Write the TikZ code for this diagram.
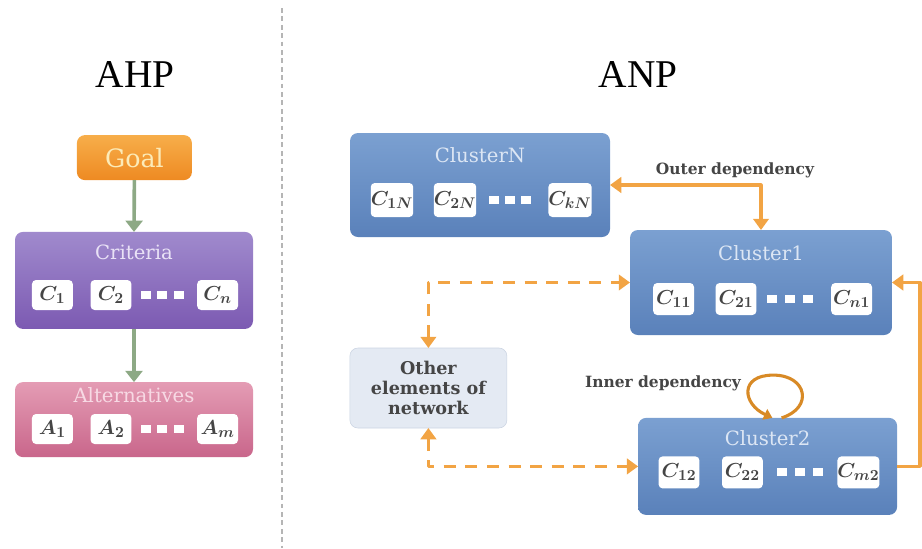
\documentclass[tikz,border=0pt]{standalone}
\usepackage{fontspec}
\setmainfont{DejaVu Serif}
\newfontfamily\headfont{Liberation Serif}
\usetikzlibrary{arrows.meta,calc}
\definecolor{goalTop}{HTML}{F7AE4A}
\definecolor{goalBot}{HTML}{EE8A22}
\definecolor{goalText}{HTML}{FCEBB8}
\definecolor{critTop}{HTML}{A08ACD}
\definecolor{critBot}{HTML}{7C5AB2}
\definecolor{critText}{HTML}{E9E2F6}
\definecolor{altTop}{HTML}{E49CB4}
\definecolor{altBot}{HTML}{C9668B}
\definecolor{altText}{HTML}{F7D9E4}
\definecolor{clTop}{HTML}{7BA0D1}
\definecolor{clBot}{HTML}{5A81BA}
\definecolor{clText}{HTML}{DCE6F4}
\definecolor{depColor}{HTML}{F2A444}
\definecolor{loopColor}{HTML}{D88A26}
\definecolor{hierColor}{HTML}{8DA985}
\definecolor{othFill}{HTML}{E4EAF3}
\definecolor{othLine}{HTML}{CBD4E2}
\definecolor{txtColor}{HTML}{454545}
\definecolor{sepColor}{HTML}{B5B5B5}
\tikzset{
	box/.style={rounded corners=2mm, inner sep=0, outer sep=0},
	cluster/.style={box, top color=clTop, bottom color=clBot},
	elem/.style={fill=white, rounded corners=1mm, minimum width=1.02cm, minimum height=0.75cm,
			inner sep=0, text=txtColor, font=\fontsize{15}{17}\selectfont\boldmath},
	boxtitle/.style={inner sep=0, font=\fontsize{14}{16}\selectfont},
	head/.style={inner sep=0, font=\headfont\fontsize{28}{32}\selectfont},
	deplabel/.style={inner sep=0, text=txtColor, font=\bfseries\fontsize{11}{13}\selectfont},
	hierarrow/.style={draw=hierColor, line width=2.6pt, -{Triangle[width=12pt,length=8pt]}},
	outerdep/.style={draw=depColor, line width=2.2pt,
			{Triangle[width=11pt,length=8pt]}-{Triangle[width=11pt,length=8pt]}},
	returnline/.style={draw=depColor, line width=2.2pt, -{Triangle[width=11pt,length=8pt]}},
	dashdep/.style={draw=depColor, line width=2.2pt, dash pattern=on 3mm off 2.4mm,
			{Triangle[width=11pt,length=8pt]}-{Triangle[width=11pt,length=8pt]}},
	innerdep/.style={draw=loopColor, line width=2.2pt, -{Triangle[width=8pt,length=6pt]}}
}
\newcommand{\sqrow}[2]{\foreach \xx in {#1} \fill[white] (\xx,#2) +(-0.125,-0.1) rectangle +(0.125,0.1);}

\begin{document}
\begin{tikzpicture}[line join=round]
	\useasboundingbox (0,0) rectangle (23.05,-13.7);
	\node[head] (ahp) at (3.375,-1.875) {AHP};
	\node[head] (anp) at (15.95,-1.875) {ANP};
	\draw[sepColor, line width=0.8pt, dash pattern=on 1.2mm off 0.9mm] (7.05,-0.2) -- (7.05,-13.7);
	% AHP hierarchy
	\node[box, top color=goalTop, bottom color=goalBot, minimum width=2.875cm, minimum height=1.125cm,
		text=goalText, font=\fontsize{18}{20}\selectfont] (goal) at (3.36,-3.94) {Goal};
	\node[box, top color=critTop, bottom color=critBot, minimum width=5.95cm, minimum height=2.425cm] (crit) at (3.35,-7.01) {};
	\node[boxtitle, text=critText] (critT) at (3.35,-6.3) {Criteria};
	\node[elem] (c1) at (1.31,-7.375) {$C_1$};
	\node[elem] (c2) at (2.775,-7.375) {$C_2$};
	\node[elem] (cn) at (5.44,-7.375) {$C_n$};
	\sqrow{3.65,4.06,4.475}{-7.375}
	\node[box, top color=altTop, bottom color=altBot, minimum width=5.95cm, minimum height=1.875cm] (alt) at (3.35,-10.49) {};
	\node[boxtitle, text=altText] (altT) at (3.35,-9.875) {Alternatives};
	\node[elem] (a1) at (1.31,-10.725) {$A_1$};
	\node[elem] (a2) at (2.775,-10.725) {$A_2$};
	\node[elem] (am) at (5.44,-10.725) {$A_m$};
	\sqrow{3.65,4.06,4.475}{-10.725}
	\draw[hierarrow] (goal.south) -- (crit.north);
	\draw[hierarrow] (crit.south) -- (alt.north);
	% ANP network
	\node[cluster, minimum width=6.5cm, minimum height=2.6cm] (cln) at (12,-4.625) {};
	\node[boxtitle, text=clText] (clnT) at (12,-3.875) {ClusterN};
	\node[elem, minimum height=0.85cm] (c1N) at (9.8,-5.0) {$C_{1N}$};
	\node[elem, minimum height=0.85cm] (c2N) at (11.375,-5.0) {$C_{2N}$};
	\node[elem, minimum height=0.85cm] (ckN) at (14.25,-5.0) {$C_{kN}$};
	\sqrow{12.35,12.75,13.15}{-5.0}
	\node[cluster, minimum width=6.55cm, minimum height=2.625cm] (cl1) at (19.025,-7.0625) {};
	\node[boxtitle, text=clText] (cl1T) at (19.025,-6.325) {Cluster1};
	\node[elem, minimum height=0.8cm] (c11) at (16.84,-7.475) {$C_{11}$};
	\node[elem, minimum height=0.8cm] (c21) at (18.4,-7.475) {$C_{21}$};
	\node[elem, minimum height=0.8cm] (cn1) at (21.29,-7.475) {$C_{n1}$};
	\sqrow{19.3,19.75,20.2}{-7.475}
	\node[cluster, minimum width=6.475cm, minimum height=2.425cm] (cl2) at (19.19,-11.66) {};
	\node[boxtitle, text=clText] (cl2T) at (19.19,-10.95) {Cluster2};
	\node[elem, minimum height=0.8cm] (c12) at (16.975,-11.81) {$C_{12}$};
	\node[elem, minimum height=0.8cm] (c22) at (18.56,-11.81) {$C_{22}$};
	\node[elem, minimum height=0.8cm] (cm2) at (21.46,-11.81) {$C_{m2}$};
	\sqrow{19.55,20.0,20.45}{-11.81}
	\node[box, fill=othFill, draw=othLine, minimum width=3.925cm, minimum height=2cm, align=center,
		text=txtColor, font=\bfseries\fontsize{12.5}{14.2}\selectfont] (oth) at (10.71,-9.7) {Other\\elements of\\network};
	% dependencies
	\draw[outerdep] (cln.east) -| (cl1.north);
	\node[deplabel] (outerL) at (18.375,-4.25) {Outer dependency};
	\coordinate (rgt) at (23.0,-11.66);
	\draw[returnline] (cl2.east) -- (rgt) |- (cl1.east);
	\draw[dashdep] (oth.north) |- (cl1.west);
	\draw[dashdep] (oth.south) |- (cl2.west);
	\draw[innerdep] ([xshift=0.35cm]cl2.north) .. controls +(0.8,0.25) and +(0.85,0) .. ([shift={(0.14,1.07)}]cl2.north)
		.. controls +(-0.85,0) and +(-0.75,0.35) .. ([xshift=0.12cm]cl2.north);
	\node[deplabel] (innerL) at (16.575,-9.575) {Inner dependency};
\end{tikzpicture}
\end{document}
